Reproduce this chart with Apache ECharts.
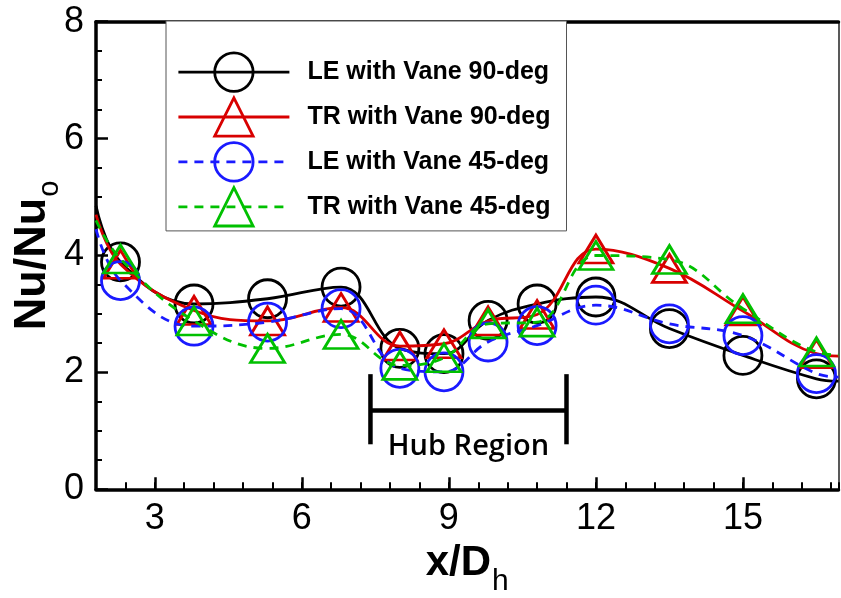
<!DOCTYPE html>
<html>
<head>
<meta charset="utf-8">
<script src="https://cdn.jsdelivr.net/npm/echarts@6/dist/echarts.min.js"></script>
<style>html,body{margin:0;padding:0;background:#fff}#c{width:841px;height:598px}</style>
</head>
<body>
<div id="c"></div>
<script>
// x/Dh stations (first and last entries are the curve ends at the plot edges, no marker)
const xPositions = [1.8, 2.3, 3.8, 5.3, 6.8, 8.0, 8.9, 9.8, 10.8, 12.0, 13.5, 15.0, 16.5, 16.95];
const le90 = [4.85, 3.89, 3.17, 3.26, 3.46, 2.41, 2.32, 2.89, 3.17, 3.29, 2.75, 2.29, 1.89, 1.85];
const tr90 = [4.70, 3.85, 3.06, 2.88, 3.11, 2.45, 2.49, 2.88, 2.99, 4.11, 3.78, 3.05, 2.32, 2.28];
const le45 = [4.45, 3.57, 2.79, 2.86, 3.09, 2.07, 2.01, 2.52, 2.80, 3.15, 2.83, 2.63, 1.98, 1.92];
const tr45 = [4.60, 3.94, 2.88, 2.41, 2.65, 2.12, 2.25, 2.83, 2.86, 4.00, 3.93, 3.09, 2.35, 2.30];
const seriesNames = ['LE with Vane 90-deg', 'TR with Vane 90-deg', 'LE with Vane 45-deg', 'TR with Vane 45-deg'];
const xTickLabels = [3, 6, 9, 12, 15];
const yTickLabels = [0, 2, 4, 6, 8];
const hubRange = [7.4, 11.4];
const hubBarY = [0.77, 1.97];
const hubLineY = 1.35;
const hubTextY = 0.72;
const hubLabel = 'Hub Region';

const colors = ['#000000', '#d80000', '#1a1aff', '#00c000'];
const symbols = ['circle', 'triangle', 'circle', 'triangle'];
const dashes = ['solid', 'solid', [9, 7], [9, 7]];
const allY = [le90, tr90, le45, tr45];
const FONT = 'Liberation Sans';

function buildData(ys) {
  return xPositions.map((x, i) => {
    const item = { value: [x, ys[i]] };
    if (i === 0 || i === xPositions.length - 1) item.symbol = 'none';
    return item;
  });
}

const series = allY.map((ys, i) => ({
  type: 'line',
  name: seriesNames[i],
  data: buildData(ys),
  xAxisIndex: 0,
  yAxisIndex: 0,
  smooth: 0.4,
  symbol: symbols[i],
  symbolSize: symbols[i] === 'circle' ? 38 : [34, 28],
  showSymbol: true,
  lineStyle: { color: colors[i], width: 2.8, type: dashes[i] },
  itemStyle: { color: 'rgba(255,255,255,0)', borderColor: colors[i], borderWidth: 2.8 },
  emphasis: { disabled: true },
  z: 3 + i
}));

const chart = echarts.init(document.getElementById('c'), null, { renderer: 'canvas' });
const gridL = 96, gridT = 21.7, gridR = 2.5, gridB = 108.7;
chart.setOption({
  animation: false,
  backgroundColor: '#fff',
  grid: { left: gridL, top: gridT, right: gridR, bottom: gridB, containLabel: false, outerBoundsMode: 'none' },
  legend: {
    orient: 'vertical',
    left: 166, top: 21,
    itemWidth: 111, itemHeight: 48, itemGap: 3.7,
    padding: [30.5, 16, 3.5, 11],
    backgroundColor: '#fff',
    borderColor: '#555', borderWidth: 1,
    selectedMode: false,
    textStyle: { fontFamily: FONT, fontWeight: 'bold', fontSize: 25, color: '#000', padding: [0, 0, 0, 13] },
    data: seriesNames.map((n, i) => ({
      name: n,
      itemStyle: { color: 'rgba(255,255,255,0)', borderColor: colors[i], borderWidth: 2.8 },
      lineStyle: { color: colors[i], width: 2.8, type: dashes[i] }
    }))
  },
  xAxis: [
    {
      type: 'value', min: 1.8, max: 16.95, position: 'bottom',
      name: '{m|x/D}{s|h}', nameLocation: 'middle', nameGap: 53, nameMoveOverlap: false,
      nameTextStyle: {
        rich: {
          m: { fontFamily: FONT, fontWeight: 'bold', fontSize: 42, lineHeight: 42, verticalAlign: 'top', color: '#000' },
          s: { fontFamily: FONT, fontSize: 30, lineHeight: 30, padding: [24, 0, 0, 1], verticalAlign: 'top', color: '#000' }
        }
      },
      axisLine: { show: true, onZero: false, lineStyle: { color: '#000', width: 3.5 } },
      axisTick: { show: true, inside: true, length: 12, customValues: xTickLabels, lineStyle: { color: '#000', width: 2.5 } },
      axisLabel: { show: true, customValues: xTickLabels, margin: 12, fontFamily: FONT, fontSize: 36, color: '#000' },
      splitLine: { show: false }
    },
    {
      type: 'value', min: 1.8, max: 16.95, interval: 0.6, position: 'bottom',
      axisLine: { show: false },
      axisTick: { show: true, inside: true, length: 7, lineStyle: { color: '#000', width: 2 } },
      axisLabel: { show: false },
      splitLine: { show: false }
    },
    {
      type: 'value', min: 1.8, max: 16.95, position: 'top',
      axisLine: { show: true, onZero: false, lineStyle: { color: '#000', width: 3.5 } },
      axisTick: { show: false }, axisLabel: { show: false }, splitLine: { show: false }
    }
  ],
  yAxis: [
    {
      type: 'value', min: 0, max: 8, interval: 2, position: 'left',
      name: '{m|Nu/Nu}{s|o}', nameLocation: 'middle', nameRotate: 90, nameGap: 41, nameMoveOverlap: false,
      nameTextStyle: {
        rich: {
          m: { fontFamily: FONT, fontWeight: 'bold', fontSize: 45, lineHeight: 45, verticalAlign: 'top', color: '#000' },
          s: { fontFamily: FONT, fontSize: 29, lineHeight: 29, padding: [25, 0, 0, 1], verticalAlign: 'top', color: '#000' }
        }
      },
      axisLine: { show: true, onZero: false, lineStyle: { color: '#000', width: 3.5 } },
      axisTick: { show: true, inside: true, length: 12, lineStyle: { color: '#000', width: 2.5 } },
      minorTick: { show: true, splitNumber: 4, length: 6, lineStyle: { color: '#000', width: 2 } },
      axisLabel: { show: true, margin: 12, fontFamily: FONT, fontSize: 36, color: '#000',
        formatter: v => (yTickLabels.indexOf(v) >= 0 ? String(v) : '') },
      splitLine: { show: false }
    },
    {
      type: 'value', min: 0, max: 8, position: 'right',
      axisLine: { show: true, onZero: false, lineStyle: { color: '#222', width: 1.5 } },
      axisTick: { show: false }, axisLabel: { show: false }, splitLine: { show: false }
    }
  ],
  series: series
});

// Hub region annotation placed with the chart's own coordinate conversion
const pL = chart.convertToPixel({ gridIndex: 0 }, [hubRange[0], hubBarY[0]]);
const pLt = chart.convertToPixel({ gridIndex: 0 }, [hubRange[0], hubBarY[1]]);
const pR = chart.convertToPixel({ gridIndex: 0 }, [hubRange[1], hubLineY]);
const pM = chart.convertToPixel({ gridIndex: 0 }, [hubRange[0], hubLineY]);
const pT = chart.convertToPixel({ gridIndex: 0 }, [(hubRange[0] + hubRange[1]) / 2, hubTextY]);
const lw = 4.5;
chart.setOption({
  graphic: [
    { type: 'line', z: 10, shape: { x1: pL[0], y1: pL[1], x2: pLt[0], y2: pLt[1] }, style: { stroke: '#000', lineWidth: lw } },
    { type: 'line', z: 10, shape: { x1: pR[0], y1: pL[1], x2: pR[0], y2: pLt[1] }, style: { stroke: '#000', lineWidth: lw } },
    { type: 'line', z: 10, shape: { x1: pM[0], y1: pM[1], x2: pR[0], y2: pR[1] }, style: { stroke: '#000', lineWidth: lw } },
    { type: 'text', z: 10, x: pT[0], y: pT[1], style: { text: hubLabel, fontFamily: 'Open Sans', fontWeight: 600, fontSize: 29, fill: '#000', align: 'center', verticalAlign: 'middle' } }
  ]
});
</script>
</body>
</html>
